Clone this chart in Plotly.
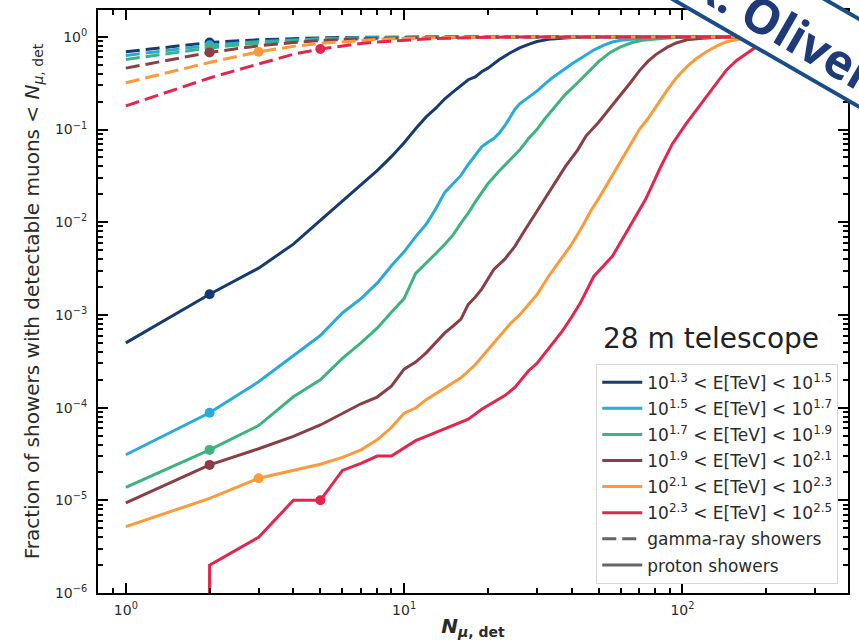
import numpy as np
import plotly.graph_objects as go

# ---- energy bins -------------------------------------------------------
bin_labels = [
    "10<sup>1.3</sup> < E[TeV] < 10<sup>1.5</sup>",
    "10<sup>1.5</sup> < E[TeV] < 10<sup>1.7</sup>",
    "10<sup>1.7</sup> < E[TeV] < 10<sup>1.9</sup>",
    "10<sup>1.9</sup> < E[TeV] < 10<sup>2.1</sup>",
    "10<sup>2.1</sup> < E[TeV] < 10<sup>2.3</sup>",
    "10<sup>2.3</sup> < E[TeV] < 10<sup>2.5</sup>",
]
bin_colors = ["#173b6e", "#2aa9db", "#3db37f", "#8a3f48", "#fd9a3b", "#e3264d"]
# muon-count cut marked on each curve
cut_n = [2, 2, 2, 2, 3, 5]

# ---- proton showers: cumulative fraction vs N_mu,det ---------------------
n_p13 = [1, 2, 3, 4, 5, 6, 7, 8, 9, 10, 11, 12, 13, 14, 15, 16, 17, 18, 19, 20,
         22, 24, 26, 28, 30, 33, 36, 40, 45, 50, 400]
f_p13 = [5.0e-4, 1.67e-3, 3.2e-3, 5.8e-3, 1.05e-2, 1.7e-2, 2.55e-2, 3.6e-2, 5.1e-2, 7.2e-2,
         0.102, 0.137, 0.17, 0.215, 0.255, 0.30, 0.345, 0.37, 0.42, 0.46,
         0.57, 0.67, 0.76, 0.83, 0.89, 0.94, 0.965, 0.985, 0.995, 1.0, 1.0]

n_p15 = [1, 2, 3, 4, 5, 6, 7, 8, 9, 10, 11, 12, 13, 14, 15, 16, 17, 18, 19, 20,
         21, 22, 23, 24, 25, 26, 28, 30, 32, 34, 37, 40, 44, 48, 52, 56, 60, 66,
         72, 80, 90, 400]
f_p15 = [3.1e-5, 8.8e-5, 1.9e-4, 3.6e-4, 6.0e-4, 1.05e-3, 1.5e-3, 2.2e-3, 3.4e-3, 4.8e-3,
         7.0e-3, 9.5e-3, 1.4e-2, 2.1e-2, 2.6e-2, 3.2e-2, 4.2e-2, 5.3e-2, 6.5e-2, 7.3e-2,
         8.0e-2, 9.2e-2, 0.11, 0.135, 0.165, 0.19, 0.225, 0.26, 0.31, 0.36, 0.43, 0.51,
         0.61, 0.72, 0.81, 0.88, 0.92, 0.945, 0.97, 0.99, 1.0, 1.0]

n_p17 = [1, 2, 3, 4, 5, 6, 7, 8, 9, 10, 11, 12, 13, 14, 15, 16, 17, 18, 20, 22,
         24, 26, 28, 30, 32, 35, 38, 42, 46, 50, 55, 60, 66, 72, 80, 90, 100, 400]
f_p17 = [1.38e-5, 3.5e-5, 6.4e-5, 1.31e-4, 2.0e-4, 3.4e-4, 5.0e-4, 7.2e-4, 1.07e-3, 1.5e-3,
         2.8e-3, 3.6e-3, 4.6e-3, 5.8e-3, 7.3e-3, 9.8e-3, 1.25e-2, 1.65e-2, 2.6e-2, 3.6e-2,
         4.7e-2, 6.0e-2, 8.0e-2, 0.10, 0.13, 0.18, 0.24, 0.32, 0.42, 0.54, 0.68, 0.78,
         0.87, 0.92, 0.95, 0.98, 1.0, 1.0]

n_p19 = [1, 2, 3, 4, 5, 6, 7, 8, 9, 10, 11, 12, 13, 14, 15, 16, 17, 18, 19, 21,
         23, 25, 27, 29, 32, 35, 38, 42, 45, 50, 55, 60, 65, 70, 75, 80, 88, 95,
         104, 115, 125, 140, 400]
f_p19 = [9.4e-6, 2.41e-5, 3.6e-5, 4.9e-5, 6.5e-5, 8.6e-5, 1.1e-4, 1.3e-4, 1.7e-4, 2.6e-4,
         3.1e-4, 3.9e-4, 5.0e-4, 6.4e-4, 7.6e-4, 9.0e-4, 1.3e-3, 1.55e-3, 1.9e-3, 3.1e-3,
         4.0e-3, 5.5e-3, 8.0e-3, 1.12e-2, 1.8e-2, 2.8e-2, 4.0e-2, 6.0e-2, 8.5e-2, 0.12,
         0.17, 0.24, 0.32, 0.43, 0.54, 0.64, 0.77, 0.86, 0.93, 0.96, 0.975, 1.0, 1.0]

n_p21 = [1, 2, 3, 4, 5, 6, 7, 8, 9, 10, 11, 12, 13, 14, 15, 16, 18, 20, 22, 24,
         26, 28, 30, 33, 36, 40, 43, 47, 50, 55, 60, 65, 70, 75, 80, 88, 95, 104,
         112, 122, 133, 144, 160, 175, 190, 210, 400]
f_p21 = [5.2e-6, 1.05e-5, 1.73e-5, 2.1e-5, 2.45e-5, 2.9e-5, 3.5e-5, 4.5e-5, 6.1e-5, 8.7e-5,
         9.9e-5, 1.22e-4, 1.42e-4, 1.6e-4, 1.83e-4, 2.1e-4, 2.9e-4, 4.2e-4, 5.8e-4, 8.0e-4,
         1.0e-3, 1.3e-3, 1.65e-3, 2.6e-3, 3.7e-3, 5.8e-3, 8.3e-3, 1.35e-2, 1.8e-2, 2.9e-2,
         4.6e-2, 6.8e-2, 0.10, 0.13, 0.175, 0.265, 0.36, 0.48, 0.58, 0.69, 0.80, 0.885,
         0.94, 0.97, 0.99, 1.0, 1.0]

n_p23 = [1, 2, 3, 4, 5, 6, 7, 8, 9, 10, 11, 12, 13, 15, 17, 19, 21, 23, 25, 28,
         30, 33, 37, 40, 43, 48, 56, 64, 74, 83, 92, 103, 112, 122, 133, 144, 157,
         170, 183, 195, 210, 230, 250, 280, 400]
f_p23 = [0.0, 2.0e-6, 4.0e-6, 1.0e-5, 1.0e-5, 2.1e-5, 2.5e-5, 3.0e-5, 3.0e-5, 3.7e-5,
         4.4e-5, 4.9e-5, 5.4e-5, 6.4e-5, 7.5e-5, 9.6e-5, 1.15e-4, 1.35e-4, 1.65e-4, 2.5e-4,
         3.0e-4, 4.3e-4, 6.7e-4, 9.5e-4, 1.35e-3, 2.6e-3, 4.3e-3, 8.5e-3, 1.8e-2, 3.8e-2,
         7.0e-2, 0.115, 0.16, 0.225, 0.32, 0.44, 0.56, 0.665, 0.77, 0.85, 0.91, 0.96,
         0.985, 1.0, 1.0]

# ---- gamma-ray showers -------------------------------------------------
n_gamma = [1, 2, 3, 4, 5, 6, 7, 8, 10, 12, 15, 20, 30, 400]
f_g13 = [0.69, 0.87, 0.93, 0.96, 0.975, 0.985, 0.99, 0.993, 0.997, 1.0, 1.0, 1.0, 1.0, 1.0]
f_g15 = [0.63, 0.81, 0.89, 0.93, 0.955, 0.97, 0.98, 0.985, 0.993, 0.997, 1.0, 1.0, 1.0, 1.0]
f_g17 = [0.57, 0.76, 0.86, 0.91, 0.94, 0.96, 0.97, 0.98, 0.99, 0.995, 1.0, 1.0, 1.0, 1.0]
f_g19 = [0.46, 0.68, 0.80, 0.87, 0.91, 0.94, 0.955, 0.965, 0.98, 0.99, 0.995, 1.0, 1.0, 1.0]
f_g21 = [0.32, 0.53, 0.69, 0.79, 0.85, 0.89, 0.92, 0.94, 0.96, 0.975, 0.99, 0.995, 1.0, 1.0]
f_g23 = [0.18, 0.36, 0.51, 0.65, 0.74, 0.80, 0.85, 0.88, 0.92, 0.95, 0.97, 0.99, 1.0, 1.0]

# ---- axis ticks ----------------------------------------------------------
x_tickvals = [1, 10, 100]
x_ticktext = ["10<sup>0</sup>", "10<sup>1</sup>", "10<sup>2</sup>"]
y_tickvals = [1e-6, 1e-5, 1e-4, 1e-3, 1e-2, 1e-1, 1e0]
y_ticktext = ["10<sup>−6</sup>", "10<sup>−5</sup>", "10<sup>−4</sup>", "10<sup>−3</sup>",
              "10<sup>−2</sup>", "10<sup>−1</sup>", "10<sup>0</sup>"]

proton_sets = [(n_p13, f_p13), (n_p15, f_p15), (n_p17, f_p17),
               (n_p19, f_p19), (n_p21, f_p21), (n_p23, f_p23)]
gamma_sets = [f_g13, f_g15, f_g17, f_g19, f_g21, f_g23]

FONT = "DejaVu Sans"
TXT = "#2b2b2b"
W, H = 859, 640
M_L, M_R, M_T, M_B = 98, 11, 10, 47


def log_floor(vals):
    # zero fractions are pushed far below the axis so the line drops off the bottom
    v = np.asarray(vals, dtype=float)
    return np.where(v > 0, v, 1e-300)


def px_to_paper(px, py):
    return ((px - M_L) / (W - M_L - M_R), (H - M_B - py) / (H - M_T - M_B))


fig = go.Figure()

for i in range(6):
    n_p, f_p = proton_sets[i]
    f_g = gamma_sets[i]
    col = bin_colors[i]
    grp = f"bin{i}"
    # proton showers (solid)
    fig.add_trace(go.Scatter(
        x=n_p, y=log_floor(f_p), mode="lines",
        line=dict(color=col, width=3), name=bin_labels[i],
        legendgroup=grp, showlegend=True, hoverinfo="skip"))
    k = n_p.index(cut_n[i])
    fig.add_trace(go.Scatter(
        x=[n_p[k]], y=[f_p[k]], mode="markers",
        marker=dict(color=col, size=10), showlegend=False,
        legendgroup=grp, hoverinfo="skip"))
    # gamma-ray showers (dashed)
    fig.add_trace(go.Scatter(
        x=n_gamma, y=f_g, mode="lines",
        line=dict(color=col, width=3, dash="14px,6px"),
        showlegend=False, legendgroup=grp, hoverinfo="skip"))
    kg = n_gamma.index(cut_n[i])
    fig.add_trace(go.Scatter(
        x=[n_gamma[kg]], y=[f_g[kg]], mode="markers",
        marker=dict(color=col, size=10), showlegend=False,
        legendgroup=grp, hoverinfo="skip"))

# line-style keys
fig.add_trace(go.Scatter(x=[None], y=[None], mode="lines", name="gamma-ray showers",
                         line=dict(color="#666666", width=3, dash="14px,6px"),
                         legendgroup="gamma"))
fig.add_trace(go.Scatter(x=[None], y=[None], mode="lines", name="proton showers",
                         line=dict(color="#666666", width=3),
                         legendgroup="proton"))

x_minor = [m * 10 ** e for e in (-1, 0, 1, 2) for m in range(2, 10)
           if 0.8 <= m * 10 ** e <= 400 and m * 10 ** e not in x_tickvals]
y_minor = [m * 10.0 ** e for e in range(-6, 1) for m in range(2, 10) if m * 10.0 ** e <= 1.95]

axis_common = dict(
    type="log", showgrid=False, zeroline=False, automargin=False,
    showline=True, linecolor="black", linewidth=2, mirror="allticks",
    ticks="inside", ticklen=10, tickwidth=2, tickcolor="black",
    tickfont=dict(family=FONT, size=14, color=TXT),
)

fig.update_layout(
    width=W, height=H,
    margin=dict(l=M_L, r=M_R, t=M_T, b=M_B, autoexpand=False),
    plot_bgcolor="white", paper_bgcolor="white",
    font=dict(family=FONT, color=TXT),
    xaxis=dict(
        **axis_common,
        range=[-0.1, 2.595],
        tickmode="array", tickvals=x_tickvals, ticktext=x_ticktext,
        minor=dict(tickmode="array", tickvals=x_minor, ticks="inside",
                   ticklen=5, tickwidth=1.5, tickcolor="black", showgrid=False),
        title=dict(text="<b><i>N</i></b><sub><b><i>μ</i>, det</b></sub>",
                   font=dict(family=FONT, size=20, color=TXT), standoff=11),
        ticklabelstandoff=3,
    ),
    yaxis=dict(
        **axis_common,
        range=[-6, 0.29],
        tickmode="array", tickvals=y_tickvals, ticktext=y_ticktext,
        minor=dict(tickmode="array", tickvals=y_minor, ticks="inside",
                   ticklen=5, tickwidth=1.5, tickcolor="black", showgrid=False),
        title=dict(text="Fraction of showers with detectable muons < <i>N</i><sub><i>μ</i>, det</sub>",
                   font=dict(family=FONT, size=20, color=TXT), standoff=10),
        ticklabelstandoff=6,
    ),
    legend=dict(
        x=0.987, y=0.016, xanchor="right", yanchor="bottom",
        bgcolor="rgba(255,255,255,0.85)", bordercolor="#d6d6d6", borderwidth=1,
        font=dict(family=FONT, size=17, color=TXT),
        tracegroupgap=1, itemwidth=40, traceorder="grouped",
    ),
    showlegend=True,
)

fig.add_annotation(
    text="28 m telescope", xref="paper", yref="paper",
    x=0.817, y=0.436, xanchor="center", yanchor="middle", showarrow=False,
    font=dict(family=FONT, size=28, color="#222222"),
)

# ---- name stamp across the upper-right corner ----------------------------
# tilted white band with a blue frame (pixel geometry, converted to paper units)
ang = np.deg2rad(30)
u = np.array([np.cos(ang), np.sin(ang)])        # along the band
dn = np.array([-np.sin(ang), np.cos(ang)])      # across the band
mid = np.array([750.0, 0.0])
half = 38.0
corners = [mid + s * u + t * dn for s, t in ((-160, -half), (420, -half), (420, half), (-160, half))]
path = "M " + " L ".join("{:.5f},{:.5f}".format(*px_to_paper(*c)) for c in corners) + " Z"
fig.add_shape(type="path", path=path, xref="paper", yref="paper",
              fillcolor="white", line=dict(color="#1a4d86", width=4), layer="above")

sx, sy = px_to_paper(796.5, 34)
fig.add_annotation(
    text="R. Olivera", xref="paper", yref="paper",
    x=sx, y=sy, xanchor="center", yanchor="middle", showarrow=False,
    textangle=30, font=dict(family="Open Sans", size=48, color="#1e3a78", weight=700),
)

fig.write_html("out.html")
